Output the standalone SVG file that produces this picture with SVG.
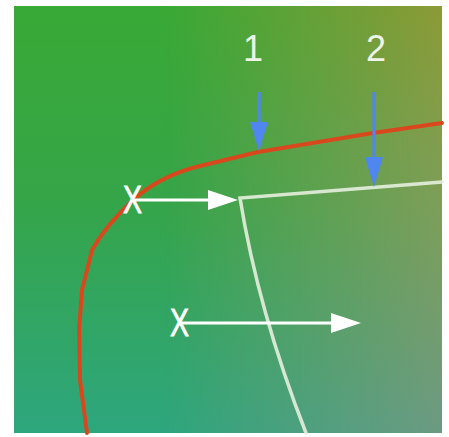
<svg xmlns="http://www.w3.org/2000/svg" width="449" height="437" viewBox="0 0 449 437">
<style>
.lbl{font-family:"Liberation Sans",Arial,sans-serif;font-size:36px;fill:#eef4e8}
.xm{font-family:"Liberation Sans",Arial,sans-serif;font-size:38px;fill:#ffffff;stroke:#ffffff;stroke-width:0.8}
.red{fill:none;stroke:#d9481c;stroke-width:4;stroke-linejoin:round;stroke-linecap:round}
.wl{fill:none;stroke:#e6efde;stroke-opacity:0.9;stroke-width:3.5;stroke-linecap:round}
.wa{stroke:#ffffff;stroke-width:3}
.ba{stroke:#4f86f0;stroke-width:3.2}
</style>
<defs>
<linearGradient id="gl" x1="0" y1="0" x2="0" y2="1">
<stop offset="0" stop-color="#38a935"/>
<stop offset="0.45" stop-color="#35a548"/>
<stop offset="1" stop-color="#2ea67e"/>
</linearGradient>
<linearGradient id="gr" x1="0" y1="0" x2="0" y2="1">
<stop offset="0" stop-color="#8c9a36"/>
<stop offset="0.45" stop-color="#7e9e58"/>
<stop offset="1" stop-color="#6c9a82"/>
</linearGradient>
<linearGradient id="gm" x1="0" y1="0" x2="1" y2="0">
<stop offset="0.35" stop-color="#000"/>
<stop offset="1" stop-color="#fff"/>
</linearGradient>
<mask id="mk" maskUnits="userSpaceOnUse" x="14" y="6" width="428" height="427">
<rect x="14" y="6" width="428" height="427" fill="url(#gm)"/>
</mask>
</defs>
<g id="background">
<rect x="14" y="6" width="428" height="427" fill="url(#gl)"/>
<rect x="14" y="6" width="428" height="427" fill="url(#gr)" mask="url(#mk)"/>
</g>
<g id="connectors">
<path id="red-curve" class="red" d="M 87 433 L 80 380 L 79 330 L 82 290 L 92 250 C 102 232 118 214 133 200 C 153 182 175 172 200 166 L 258 152 L 373 133 L 442 123"/>
<path id="white-boundary" class="wl" d="M 442 182 L 240 198 Q 258 310 306 433"/>
<g id="arrow-a">
<line class="wa" x1="132" y1="200" x2="210" y2="200"/>
<polygon points="208,190 238,200 208,210" fill="#ffffff"/>
</g>
<g id="arrow-b">
<line class="wa" x1="180" y1="323" x2="333" y2="323"/>
<polygon points="331,313 361,323 331,333" fill="#ffffff"/>
</g>
<g id="blue-arrow-1">
<line class="ba" x1="259" y1="92" x2="259" y2="124"/>
<polygon points="250,122 268,122 259,151" fill="#4f86f0"/>
</g>
<g id="blue-arrow-2">
<line class="ba" x1="374" y1="92" x2="374" y2="159"/>
<polygon points="365,157 383,157 374,187" fill="#4f86f0"/>
</g>
</g>
<g id="label-1"><text class="lbl" x="243" y="61">1</text></g>
<g id="label-2"><text class="lbl" x="366" y="61">2</text></g>
<g id="x-1"><text class="xm" x="123" y="213" textLength="19" lengthAdjust="spacingAndGlyphs">X</text></g>
<g id="x-2"><text class="xm" x="170" y="336" textLength="19" lengthAdjust="spacingAndGlyphs">X</text></g>
</svg>
